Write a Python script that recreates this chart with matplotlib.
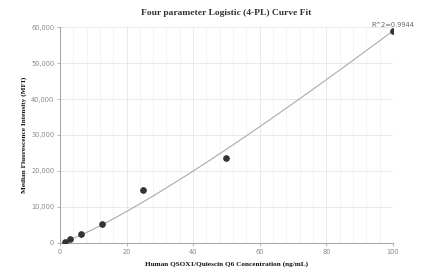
import numpy as np
import matplotlib
matplotlib.use("Agg")
import matplotlib.pyplot as plt
from matplotlib.ticker import MultipleLocator, FuncFormatter

# standard concentrations (ng/mL) and measured MFI
conc = [1.5625, 3.125, 6.25, 12.5, 25, 50, 100]
mfi = [380, 1050, 2450, 5400, 14700, 23700, 58900]

# 4-PL fit parameters (a = bottom, b = slope, c = EC50, d = top)
fit_a = 0.0
fit_b = 1.2
fit_c = 2000.0
fit_d = 2.204e6
r_squared = "R^2=0.9944"

title = "Four parameter Logistic (4-PL) Curve Fit"
x_label = "Human QSOX1/Quiescin Q6 Concentration (ng/mL)"
y_label = "Median Fluorescence Intensity (MFI)"


def four_pl(x, a, b, c, d):
    return d + (a - d) / (1.0 + (x / c) ** b)


fig = plt.figure(figsize=(4.28, 2.73), dpi=100)
ax = fig.add_axes([0.140, 0.110, 0.778, 0.791])

xs = np.linspace(min(conc), max(conc), 300)
ax.plot(xs, four_pl(xs, fit_a, fit_b, fit_c, fit_d), color="#aaaaaa", lw=0.8, zorder=2)
ax.plot(conc, mfi, "o", color="#333333", ms=3.8, zorder=3)

ax.annotate(r_squared, (conc[-1], mfi[-1]), xytext=(0, 2.5), textcoords="offset points",
            ha="center", va="bottom", fontsize=4.8, color="#666666", family="DejaVu Sans")

ax.set_xlim(0, 100)
ax.set_ylim(0, 60000)
ax.xaxis.set_major_locator(MultipleLocator(20))
ax.xaxis.set_minor_locator(MultipleLocator(4))
ax.yaxis.set_major_locator(MultipleLocator(10000))
ax.yaxis.set_major_formatter(FuncFormatter(lambda v, p: f"{int(v):,}"))

ax.grid(which="major", color="#e4e6ee", lw=0.6)
ax.grid(which="minor", axis="x", color="#eff0f5", lw=0.5)
ax.set_axisbelow(True)

for s in ("top", "right"):
    ax.spines[s].set_visible(False)
for s in ("left", "bottom"):
    ax.spines[s].set_color("#aaaaaa")
    ax.spines[s].set_linewidth(0.8)

ax.tick_params(which="major", length=2.5, width=0.6, color="#aaaaaa",
               labelsize=4.8, labelcolor="#888888", pad=1.5)
ax.tick_params(which="minor", length=0)

ax.set_title(title, fontsize=6.8, fontweight="bold", family="Liberation Serif",
             color="#333333", pad=9)
ax.set_xlabel(x_label, fontsize=5.2, fontweight="bold", family="Liberation Serif",
              color="#111111", labelpad=5)
ax.set_ylabel(y_label, fontsize=5.2, fontweight="bold", family="Liberation Serif",
              color="#111111", labelpad=3)

fig.savefig("out.png", dpi=100)
